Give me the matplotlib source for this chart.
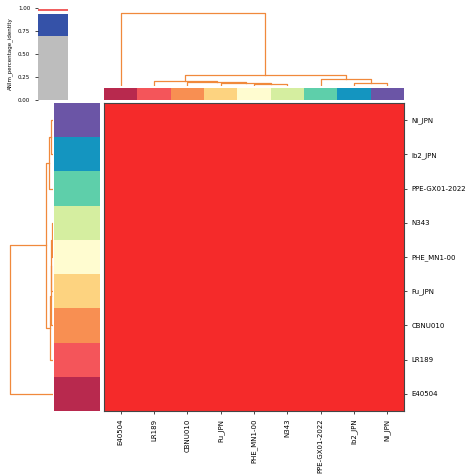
import numpy as np
import matplotlib.pyplot as plt
from matplotlib.colors import ListedColormap

# =========================
# DATA
# =========================
labels = ["E40504", "LR189", "CBNU010", "Fu_JPN", "PHE_MN1-00",
          "N343", "PPE-GX01-2022", "Ib2_JPN", "Ni_JPN"]
leaf_colors = ["#b8294e", "#f4555a", "#f88f52", "#fdd380", "#fffcd0",
               "#d5eea0", "#5ecfaa", "#1495c0", "#6b55a6"]
identity = np.full((9, 9), 1.0)

# merges: (left id, right id, height); leaves are 0..8, new clusters 9..
merges = [(4, 5, 5), (3, 9, 8), (7, 8, 8), (2, 10, 12), (1, 12, 15),
          (6, 11, 20), (13, 14, 33), (0, 15, 218)]

# stacked bar in the corner (segment bottoms / tops)
seg_lo = [0.0, 0.70, 0.965]
seg_hi = [0.70, 0.93, 0.985]
seg_col = ["#bdbdbd", "#3552a8", "#f06060"]

DENDRO = "#f0893c"


def dendro_segments():
    pos = {i: i + 0.5 for i in range(len(labels))}
    hgt = {i: 0 for i in range(len(labels))}
    segs = []
    for k, (a, b, h) in enumerate(merges):
        segs.append(([pos[a], pos[a], pos[b], pos[b]], [hgt[a], h, h, hgt[b]]))
        nid = len(labels) + k
        pos[nid] = (pos[a] + pos[b]) / 2
        hgt[nid] = h
    return segs


fig = plt.figure(figsize=(4.74, 4.74), dpi=100)
W = H = 474.0


def ax_px(x0, y0, x1, y1):
    return fig.add_axes([x0 / W, 1 - y1 / H, (x1 - x0) / W, (y1 - y0) / H])


# heatmap
ax = ax_px(104, 103, 404, 411)
ax.imshow(identity, cmap=ListedColormap(["#f52a2a"]),
          extent=(0, 9, 0, 9), aspect="auto")
ax.set_xlim(0, 9)
ax.set_ylim(0, 9)
ax.set_xticks(np.arange(9) + 0.5)
ax.set_xticklabels(labels, rotation=90, fontsize=5)
ax.set_yticks(np.arange(9) + 0.5)
ax.set_yticklabels(labels, fontsize=5)
ax.yaxis.tick_right()
ax.tick_params(length=2, width=0.5)
for s in ax.spines.values():
    s.set_linewidth(0.8)
    s.set_color("#444444")

# column colors
axc = ax_px(104, 88, 404, 100)
for i, c in enumerate(leaf_colors):
    axc.bar(i, 1, width=1, align="edge", color=c)
axc.set_xlim(0, 9)
axc.set_ylim(0, 1)
axc.axis("off")

# row colors
axr = ax_px(54, 103, 100, 411)
for i, c in enumerate(leaf_colors):
    axr.barh(i, 1, height=1, align="edge", color=c)
axr.set_ylim(0, 9)
axr.set_xlim(0, 1)
axr.axis("off")

# column dendrogram
axd = ax_px(104, 10, 404, 86)
for xs, ys in dendro_segments():
    axd.plot(xs, ys, color=DENDRO, lw=0.9)
axd.set_xlim(0, 9)
axd.set_ylim(0, 226)
axd.axis("off")

# row dendrogram
axrd = ax_px(8, 103, 53, 411)
for xs, ys in dendro_segments():
    axrd.plot(ys, xs, color=DENDRO, lw=0.9)
axrd.set_ylim(0, 9)
axrd.set_xlim(226, 0)
axrd.axis("off")

# identity bar
axb = ax_px(38, 8, 68, 100)
for lo, hi, c in zip(seg_lo, seg_hi, seg_col):
    axb.bar(0, hi - lo, bottom=lo, width=1, color=c)
axb.set_xlim(-0.5, 0.5)
axb.set_ylim(0, 1.0)
axb.set_xticks([])
axb.set_yticks([0, 0.25, 0.5, 0.75, 1.0])
axb.set_yticklabels(["0.00", "0.25", "0.50", "0.75", "1.00"], fontsize=4)
axb.tick_params(length=2, width=0.5)
axb.set_ylabel("ANIm_percentage_identity", fontsize=4)
for s in axb.spines.values():
    s.set_visible(False)

fig.savefig("out.png", dpi=100)
